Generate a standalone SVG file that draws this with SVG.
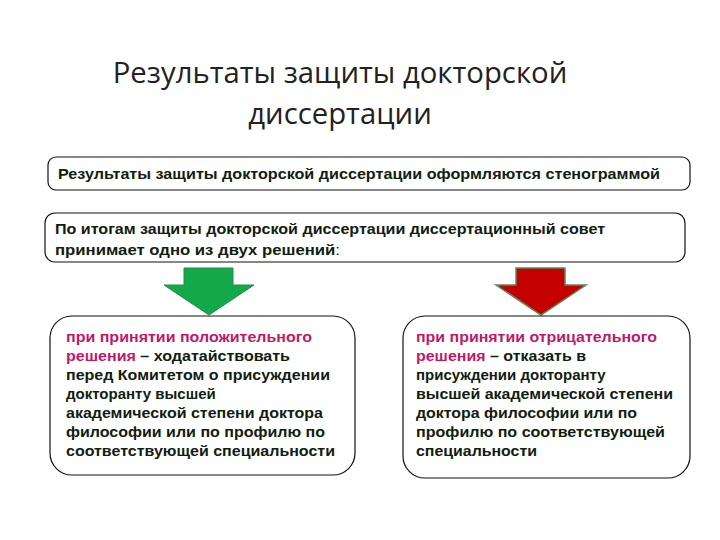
<svg xmlns="http://www.w3.org/2000/svg" width="720" height="540" viewBox="0 0 720 540">
<style>
.box{fill:#fff;stroke:#111;stroke-width:1.2}
.t{font-family:"Liberation Sans",Arial,sans-serif;font-size:15px;font-weight:bold;fill:#102010}
.m{fill:#c0186a}
.title{font-family:"Open Sans","DejaVu Sans",sans-serif;font-size:29.3px;fill:#222;text-anchor:middle}
</style>
<rect width="720" height="540" fill="#fff"/>
<g id="title"><text class="title" x="340" y="83">Результаты защиты докторской</text><text class="title" x="340" y="124">диссертации</text></g>
<g id="n1"><rect class="box" x="48" y="157" width="642" height="33" rx="8"/><text class="t" x="58" y="179" textLength="602" lengthAdjust="spacingAndGlyphs">Результаты защиты докторской диссертации оформляются стенограммой</text></g>
<g id="n2"><rect class="box" x="45" y="213" width="640" height="49" rx="10"/><text class="t" x="55" y="234" textLength="550" lengthAdjust="spacingAndGlyphs">По итогам защиты докторской диссертации диссертационный совет</text><text class="t" x="55" y="255" textLength="285" lengthAdjust="spacingAndGlyphs">принимает одно из двух решений<tspan font-weight="normal">:</tspan></text></g>
<g id="connectors">
<polygon points="184,268 233,268 233,285 254,285 209,315 164,285 184,285" fill="#12a94a" stroke="#2a8a4a"/>
<polygon points="516,268 565,268 565,285 586,285 541,315 496,285 516,285" fill="#c40000" stroke="#5a8a5a" stroke-width="1.5"/>
</g>
<g id="n3"><rect class="box" x="50" y="316" width="305" height="159" rx="22"/>
<text class="t" x="66" y="342" textLength="246" lengthAdjust="spacingAndGlyphs"><tspan class="m">при принятии положительного</tspan></text>
<text class="t" x="66" y="361" textLength="224" lengthAdjust="spacingAndGlyphs"><tspan class="m">решения</tspan> – ходатайствовать</text>
<text class="t" x="66" y="380" textLength="264" lengthAdjust="spacingAndGlyphs">перед Комитетом о присуждении</text>
<text class="t" x="66" y="399">докторанту высшей</text>
<text class="t" x="66" y="418" textLength="257" lengthAdjust="spacingAndGlyphs">академической степени доктора</text>
<text class="t" x="66" y="437" textLength="259" lengthAdjust="spacingAndGlyphs">философии или по профилю по</text>
<text class="t" x="66" y="456" textLength="269" lengthAdjust="spacingAndGlyphs">соответствующей специальности</text></g>
<g id="n4"><rect class="box" x="403" y="316" width="287" height="162" rx="22"/>
<text class="t" x="416" y="342" textLength="241" lengthAdjust="spacingAndGlyphs"><tspan class="m">при принятии отрицательного</tspan></text>
<text class="t" x="416" y="361" textLength="170" lengthAdjust="spacingAndGlyphs"><tspan class="m">решения</tspan> – отказать в</text>
<text class="t" x="416" y="380">присуждении докторанту</text>
<text class="t" x="416" y="399" textLength="257" lengthAdjust="spacingAndGlyphs">высшей академической степени</text>
<text class="t" x="416" y="418" textLength="221" lengthAdjust="spacingAndGlyphs">доктора философии или по</text>
<text class="t" x="416" y="437" textLength="249" lengthAdjust="spacingAndGlyphs">профилю по соответствующей</text>
<text class="t" x="416" y="456" textLength="121" lengthAdjust="spacingAndGlyphs">специальности</text></g>
</svg>
